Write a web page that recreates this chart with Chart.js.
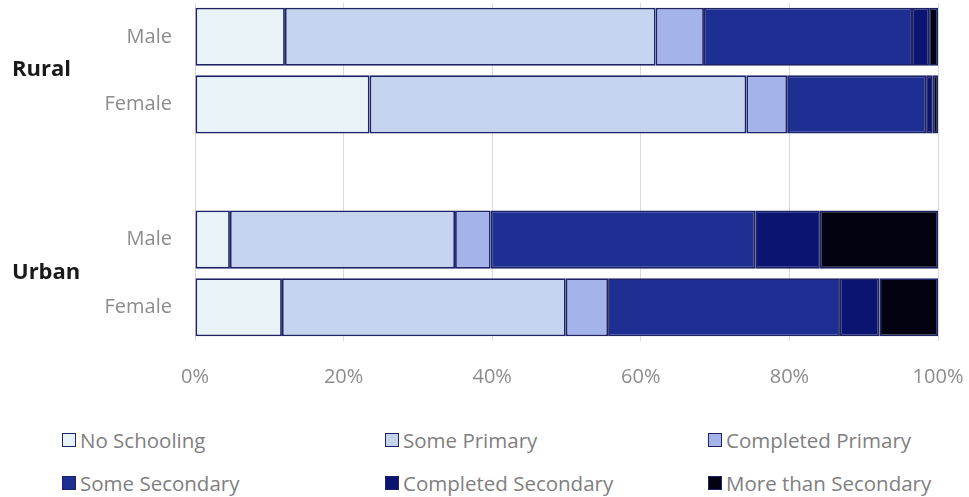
<!DOCTYPE html>
<html>
<head>
<meta charset="utf-8">
<script src="https://cdn.jsdelivr.net/npm/chart.js@4.4.1/dist/chart.umd.min.js"></script>
<style>
  body { margin: 0; background: #fff; width: 969px; height: 497px; overflow: hidden; position: relative; }
  #wrap { position: absolute; left: 0; top: 0; width: 969px; height: 390px; }
  #legend { position: absolute; left: 62px; top: 425px; display: grid;
            grid-template-columns: 323px 323px 260px; row-gap: 13px;
            font-family: "Open Sans", sans-serif; font-size: 20.5px; color: #808080; }
  .item { display: flex; align-items: center; height: 30px; white-space: nowrap; }
  .box { width: 12px; height: 12px; border: 1.5px solid #1c2366; margin-right: 4px; }
</style>
</head>
<body>
<div id="wrap"><canvas id="eduChart"></canvas></div>
<div id="legend"></div>
<script>
// Bar rows (blank row separates the two groups)
const rowLabels = ["Male", "Female", "", "Male", "Female"];
const groups = [
  { name: "Rural", rows: [0, 1] },
  { name: "Urban", rows: [3, 4] }
];

const levels = ["No Schooling", "Some Primary", "Completed Primary",
                "Some Secondary", "Completed Secondary", "More than Secondary"];
const levelColors = ["#e8f3f8", "#c6d4f0", "#a4b3ea", "#1e2f94", "#0b1470", "#020210"];

// Percent share per row: Rural Male, Rural Female, gap, Urban Male, Urban Female
const noSchooling     = [12.1, 23.5, null, 4.7, 11.7];
const somePrimary     = [49.9, 50.7, null, 30.3, 38.2];
const compPrimary     = [6.5, 5.5, null, 4.8, 5.7];
const someSecondary   = [28.0, 18.7, null, 35.6, 31.2];
const compSecondary   = [2.3, 0.9, null, 8.7, 5.3];
const moreSecondary   = [1.2, 0.7, null, 15.9, 7.9];
const seriesValues = [noSchooling, somePrimary, compPrimary, someSecondary, compSecondary, moreSecondary];

const xTicks = [0, 20, 40, 60, 80, 100];

const datasets = levels.map((name, i) => ({
  label: name,
  data: seriesValues[i],
  backgroundColor: levelColors[i],
  borderColor: "#1c2366",
  borderWidth: 1.8,
  borderSkipped: false,
  barPercentage: 0.86,
  categoryPercentage: 1
}));

// Bold group names to the left of the row labels
const groupLabels = {
  id: "groupLabels",
  afterDraw(chart) {
    const ctx = chart.ctx;
    const y = chart.scales.y;
    ctx.save();
    ctx.font = "bold 22px 'Open Sans', sans-serif";
    ctx.fillStyle = "#1a1a1a";
    ctx.textAlign = "left";
    ctx.textBaseline = "middle";
    groups.forEach(g => {
      const mid = (y.getPixelForValue(g.rows[0]) + y.getPixelForValue(g.rows[1])) / 2;
      ctx.fillText(g.name, 12, mid - 1);
    });
    ctx.restore();
  }
};

// keep the plot box where the layout padding puts it
function noEdgePadding(scale) {
  scale.paddingTop = 0;
  scale.paddingBottom = 0;
  scale.paddingLeft = 0;
  scale.paddingRight = 0;
}

const chart = new Chart(document.getElementById("eduChart"), {
  type: "bar",
  data: { labels: rowLabels, datasets: datasets },
  options: {
    indexAxis: "y",
    responsive: true,
    maintainAspectRatio: false,
    animation: false,
    layout: { padding: { top: 3, right: 31, bottom: 1, left: 0 } },
    plugins: { legend: { display: false }, tooltip: { enabled: false } },
    scales: {
      x: {
        stacked: true,
        min: 0,
        max: 100,
        afterBuildTicks: scale => { scale.ticks = xTicks.map(v => ({ value: v })); },
        afterFit: scale => { scale.height = 48; noEdgePadding(scale); },
        grid: { color: "#d9d9d9", lineWidth: 1, drawTicks: false },
        border: { display: false },
        ticks: {
          padding: 24,
          color: "#8c8c8c",
          font: { family: "'Open Sans', sans-serif", size: 20 },
          callback: v => v + "%"
        }
      },
      y: {
        stacked: true,
        afterFit: scale => { scale.width = 195; noEdgePadding(scale); },
        grid: { display: false, drawTicks: false },
        border: { display: false },
        ticks: {
          padding: 23,
          color: "#8c8c8c",
          font: { family: "'Open Sans', sans-serif", size: 20 }
        }
      }
    }
  },
  plugins: [groupLabels]
});

// Legend in three columns, two rows
const legendEl = document.getElementById("legend");
chart.data.datasets.forEach(ds => {
  const item = document.createElement("div");
  item.className = "item";
  const box = document.createElement("span");
  box.className = "box";
  box.style.background = ds.backgroundColor;
  item.appendChild(box);
  item.appendChild(document.createTextNode(ds.label));
  legendEl.appendChild(item);
});
</script>
</body>
</html>
